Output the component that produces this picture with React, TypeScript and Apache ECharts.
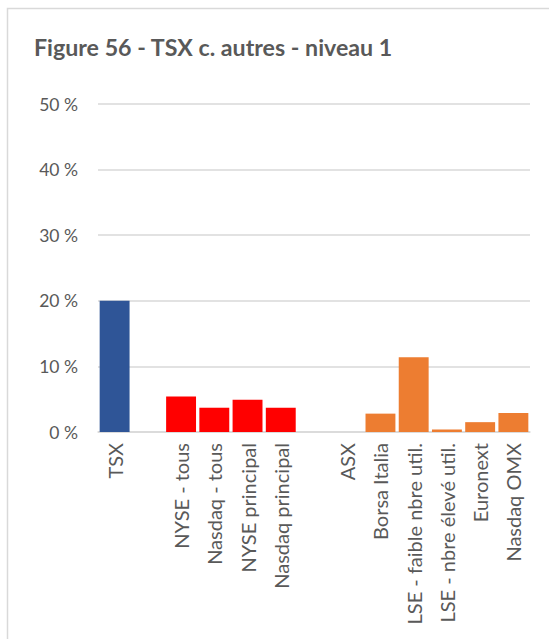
import React, { useEffect, useRef } from "react";
import * as echarts from "echarts";

const titleText = "Figure 56 - TSX c. autres - niveau 1";
const categories = [
  "TSX",
  "",
  "NYSE - tous",
  "Nasdaq - tous",
  "NYSE principal",
  "Nasdaq principal",
  " ",
  "ASX",
  "Borsa Italia",
  "LSE - faible nbre util.",
  "LSE - nbre élevé util.",
  "Euronext",
  "Nasdaq OMX",
];
// values in percent
const tsxValues = [20.0];
const usValues = [5.4, 3.7, 4.9, 3.7];
const otherValues = [0, 2.8, 11.4, 0.4, 1.5, 2.9];
const tsxIndex = [0];
const usIndex = [2, 3, 4, 5];
const otherIndex = [7, 8, 9, 10, 11, 12];
const yTicks = [0, 10, 20, 30, 40, 50];

function place(values: number[], idx: number[]) {
  const arr: (number | null)[] = categories.map(() => null);
  idx.forEach((k, i) => (arr[k] = values[i]));
  return arr;
}

export default function App() {
  const ref = useRef<HTMLDivElement>(null);
  useEffect(() => {
    if (!ref.current) return;
    const chart = echarts.init(ref.current, null, { renderer: "svg" });
    const font = "Lato, 'Open Sans', sans-serif";
    const mk = (name: string, values: number[], idx: number[], color: string) => ({
      name,
      type: "bar",
      stack: "all",
      data: place(values, idx),
      itemStyle: { color },
      barCategoryGap: "10%",
    });
    chart.setOption({
      animation: false,
      textStyle: { fontFamily: font },
      graphic: [
        {
          type: "rect",
          shape: { x: 7.5, y: 8.5, width: 600, height: 700 },
          style: { fill: "none", stroke: "#D9D9D9", lineWidth: 1.5 },
          silent: true,
        },
      ],
      title: {
        text: titleText,
        left: 29,
        top: 30,
        textStyle: { fontFamily: font, fontSize: 23.2, fontWeight: "bold", color: "#595959" },
      },
      grid: { left: 98, right: 19, top: 104, bottom: 207, containLabel: false },
      xAxis: {
        type: "category",
        data: categories,
        axisLine: { show: true, lineStyle: { color: "#D9D9D9", width: 1.5 } },
        axisTick: { show: false },
        axisLabel: {
          interval: 0,
          rotate: 90,
          margin: 11,
          fontSize: 20,
          color: "#595959",
          fontFamily: font,
        },
      },
      yAxis: {
        type: "value",
        min: yTicks[0],
        max: yTicks[yTicks.length - 1],
        interval: 10,
        axisLine: { show: false },
        axisTick: { show: false },
        splitLine: { lineStyle: { color: "#D9D9D9", width: 1.5 } },
        axisLabel: {
          formatter: (v: number) => `${v} %`,
          margin: 20,
          fontSize: 17.5,
          color: "#595959",
          fontFamily: font,
        },
      },
      series: [
        mk("TSX", tsxValues, tsxIndex, "#2F5597"),
        mk("US", usValues, usIndex, "#FF0000"),
        mk("Autres", otherValues, otherIndex, "#ED7D31"),
      ],
    });
    return () => chart.dispose();
  }, []);
  return (
    <div
      ref={ref}
      style={{ position: "fixed", left: 0, top: 0, width: 549, height: 639, background: "#fff" }}
    />
  );
}
